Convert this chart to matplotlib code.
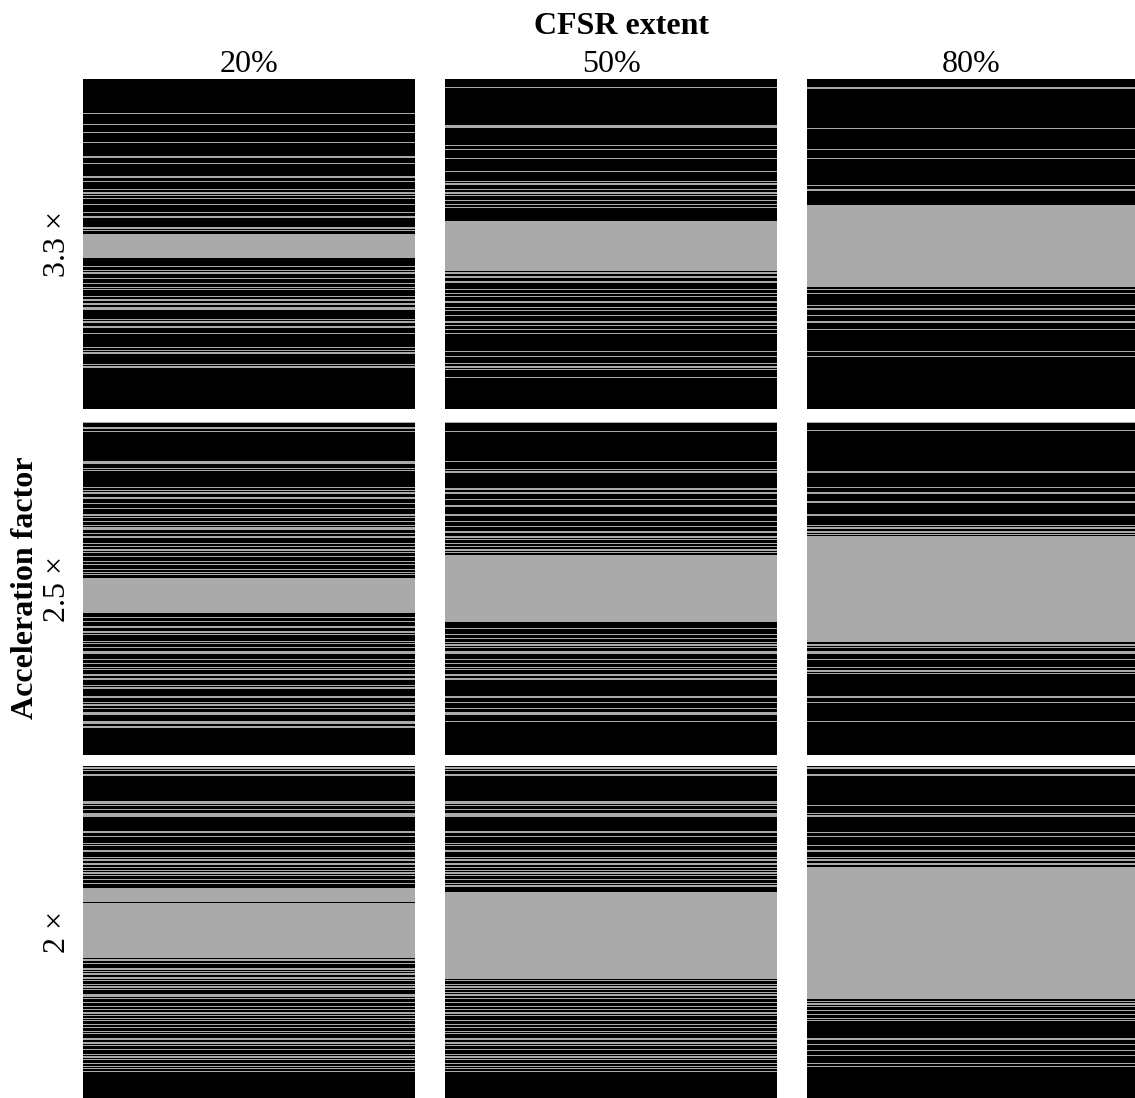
import numpy as np
import matplotlib
matplotlib.use("Agg")
import matplotlib.pyplot as plt
from matplotlib.colors import ListedColormap

N_LINES = 256
col_labels = ["20%", "50%", "80%"]
row_labels = ["3.3 \u00d7", "2.5 \u00d7", "2 \u00d7"]

# center fully-sampled band (first, last line index) per panel [row][col]
center_bands = [
    [(120, 137), (110, 148), (98, 160)],
    [(120, 146), (102, 153), (88, 168)],
    [(94, 147), (97, 163), (78, 179)],
]
# lines inside the band left unsampled
band_gaps = [
    [[], [], []],
    [[], [], []],
    [[105], [], []],
]
# outer sampled line indices per panel
outer_lines = [
    [
        [26, 35, 41, 49, 60, 65, 75, 76, 79, 85, 88, 90, 92, 97, 103, 106, 107, 115, 117,
         138, 145, 148, 150, 154, 158, 161, 163, 168, 171, 174, 177, 178, 186, 188, 192, 197,
         208, 210, 212, 221, 223],
        [6, 36, 37, 51, 54, 61, 71, 79, 81, 85, 88, 90, 94, 97, 99,
         150, 153, 157, 163, 166, 168, 172, 173, 177, 179, 183, 188, 191, 194, 197,
         211, 215, 220, 223, 225, 231],
        [6, 7, 38, 54, 61, 82, 85, 86,
         163, 166, 175, 178, 183, 188, 194, 211, 215],
    ],
    [
        [0, 4, 7, 30, 31, 35, 37, 50, 52, 54, 58, 62, 66, 71, 73, 76, 79, 81, 82, 85, 88,
         93, 95, 98, 100, 103, 107, 109, 113, 115, 117,
         150, 153, 157, 161, 163, 168, 170, 173, 176, 177, 182, 185, 188, 190, 194, 197,
         202, 204, 211, 215, 217, 220, 223, 224, 230, 231, 234],
        [0, 7, 30, 36, 38, 51, 54, 59, 64, 71, 76, 80, 84, 88, 90, 93, 95, 98, 100,
         158, 163, 166, 169, 171, 173, 176, 177, 182, 185, 188, 190, 194, 197,
         211, 215, 220, 223, 224, 230],
        [0, 6, 38, 50, 54, 61, 71, 79, 81, 84, 86,
         171, 173, 176, 177, 182, 188, 191, 193, 211, 215, 230],
    ],
    [
        [1, 3, 6, 7, 27, 28, 30, 33, 36, 37, 38, 50, 51, 54, 59, 61, 65, 70, 72, 75, 78, 80,
         82, 84, 87, 90,
         149, 152, 156, 158, 160, 163, 165, 168, 170, 172, 176, 177, 179, 182, 185, 187, 190,
         192, 194, 196, 199, 201, 204, 206, 210, 213, 215, 218, 222, 224, 226, 229, 231, 233, 235],
        [1, 3, 6, 7, 27, 28, 30, 33, 36, 37, 38, 50, 51, 54, 59, 61, 65, 70, 72, 75, 78, 80,
         82, 84, 87, 90, 92,
         165, 168, 170, 172, 174, 176, 179, 182, 185, 187, 190, 192, 196, 199, 201, 204, 206,
         210, 213, 215, 218, 222, 224, 226, 229, 231, 233, 235],
        [1, 6, 7, 30, 36, 38, 51, 54, 61, 65, 70, 72, 75,
         181, 183, 185, 188, 191, 194, 196, 210, 214, 219, 223, 229, 231],
    ],
]

gray = "#aaaaaa"
cmap = ListedColormap(["#000000", gray])

W, H = 1135, 1098
fig = plt.figure(figsize=(W / 100, H / 100), dpi=100)
plt.rcParams["font.family"] = ["Liberation Serif", "DejaVu Serif"]

col_x = [(83, 414), (445, 777), (807, 1135)]
row_y = [(79, 409), (422, 755), (766, 1098)]

for r in range(3):
    for c in range(3):
        x0, x1 = col_x[c]
        y0, y1 = row_y[r]
        ax = fig.add_axes([x0 / W, 1 - y1 / H, (x1 - x0) / W, (y1 - y0) / H])
        mask = np.zeros(N_LINES)
        b0, b1 = center_bands[r][c]
        mask[b0:b1 + 1] = 1
        for g in band_gaps[r][c]:
            mask[g] = 0
        for i in outer_lines[r][c]:
            mask[i] = 1
        ax.imshow(mask[:, None], cmap=cmap, vmin=0, vmax=1, aspect="auto",
                  interpolation="nearest")
        ax.set_xticks([])
        ax.set_yticks([])
        for s in ax.spines.values():
            s.set_visible(False)
        if r == 0:
            ax.set_title(col_labels[c], fontsize=23, pad=2)
        if c == 0:
            ax.set_ylabel(row_labels[r], fontsize=23, labelpad=8)

fig.text(622 / W, 1 - 26 / H, "CFSR extent", ha="center", va="center",
         fontsize=23, fontweight="bold")
fig.text(26 / W, 1 - 588 / H, "Acceleration factor", ha="center", va="center",
         fontsize=23, fontweight="bold", rotation=90)

fig.savefig("out.png", dpi=100, facecolor="white")
